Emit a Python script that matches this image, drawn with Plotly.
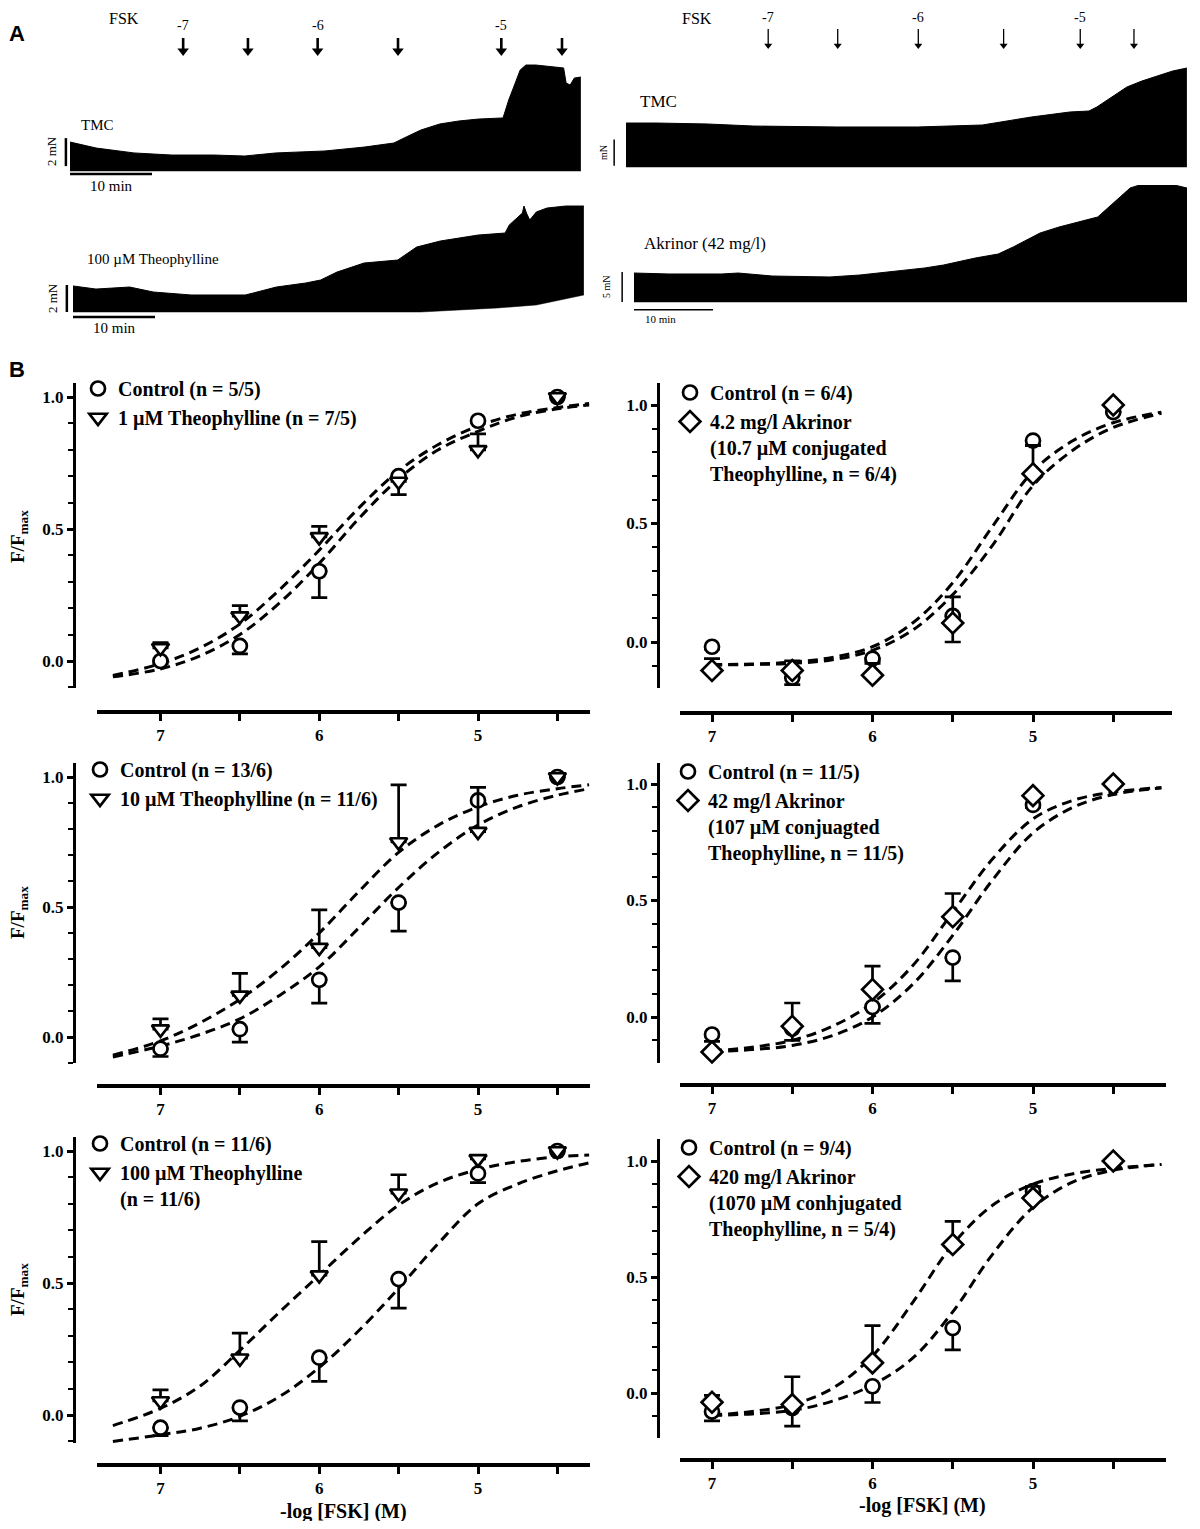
import plotly.graph_objects as go

# page is 1200 x 1529; the html body adds an 8 px margin on each side
PAGE_W, PAGE_H, OFF = 1200, 1529, 8
FW, FH = PAGE_W - 2 * OFF, PAGE_H - 2 * OFF
SERIF = "Liberation Serif, Times New Roman, serif"
SANS = "Liberation Sans, Arial, sans-serif"

# ---------------- panel A: force recordings (time in min, force in mN) ----------------
# TMC, left
tl_time = [0, 3.2, 7.8, 12.4, 17.6, 21.3, 25.1, 31.1, 35.9, 39.5, 41.0, 42.8, 45.1, 47.4,
           49.8, 52.8, 53.0, 53.5, 54.3, 54.9, 55.6, 56.8, 60.2, 60.5, 61.0, 61.5, 62.3]
tl_force = [2.07, 1.64, 1.29, 1.14, 1.14, 1.07, 1.29, 1.43, 1.71, 2.0, 2.43, 2.93, 3.36, 3.57,
            3.71, 3.79, 4.14, 5.07, 6.29, 7.21, 7.57, 7.57, 7.36, 6.29, 6.14, 6.64, 6.71]
tl_base_time = [0, 62.3]
tl_base_force = [0, 0]

# 100 uM theophylline, left
bl_time = [0, 2.8, 6.9, 9.8, 14.4, 21.0, 22.0, 24.8, 28.4, 30.2, 32.2, 35.5, 39.6, 40.1,
           41.9, 44.8, 49.4, 52.7, 53.2, 54.8, 55.0, 55.3, 55.7, 56.0, 56.5, 57.8, 60.1, 62.3]
bl_force = [1.93, 1.70, 1.85, 1.48, 1.26, 1.26, 1.41, 1.85, 2.15, 2.37, 2.96, 3.63, 3.85, 4.07,
            4.81, 5.26, 5.70, 5.85, 6.44, 7.33, 7.85, 7.33, 6.81, 7.04, 7.41, 7.70, 7.85, 7.85]
bl_base_time = [0, 42.4, 51.8, 56.5, 62.3]
bl_base_force = [0, 0, 0.30, 0.52, 1.26]

# TMC, right
tr_time = [0, 3.9, 10.3, 16.1, 26.7, 36.9, 45.1, 47.5, 51.3, 56.2, 58.6, 59.6, 61.5, 63.4,
           65.3, 67.8, 69.2, 71.0]
tr_force = [7.33, 7.33, 7.17, 6.83, 6.67, 6.67, 7.0, 7.5, 8.33, 9.17, 9.33, 10.0, 11.67, 13.33,
            14.33, 15.33, 16.0, 16.5]
tr_base_time = [0, 71.0]
tr_base_force = [0, 0]

# Akrinor (42 mg/l), right
br_time = [0, 4.4, 11.1, 13.2, 17.5, 22.8, 24.8, 28.6, 32.5, 36.8, 39.2, 43.2, 46.1, 48.0,
           51.4, 53.8, 58.7, 60.1, 61.5, 62.8, 64.4, 66.5, 68.4, 70.0]
br_force = [4.83, 4.67, 4.67, 4.83, 4.33, 4.17, 4.17, 4.5, 5.0, 5.67, 6.17, 7.33, 8.0, 9.17,
            11.5, 12.5, 14.17, 15.83, 17.5, 19.0, 19.67, 20.0, 19.5, 19.0]
br_base_time = [0, 70.0]
br_base_force = [0, 0]

# FSK additions (min)
fsk_left_times = [13.8, 21.7, 30.2, 40.0, 52.6, 60.0]
fsk_right_times = [18.0, 26.8, 37.0, 47.8, 57.5, 64.3]
fsk_labels = ['-7', '', '-6', '', '-5', '']

# ---------------- panel B: concentration-response ----------------
log_fsk = [7, 6.5, 6, 5.5, 5, 4.5]
x_ticks = [7, 6.5, 6, 5.5, 5, 4.5]
x_ticktext = ['7', '', '6', '', '5', '']
y_ticks = [0, 0.5, 1.0]
no_err = [0, 0, 0, 0, 0, 0]

fit_x_left = [7.3, 7.0, 6.75, 6.5, 6.25, 6.0, 5.75, 5.5, 5.25, 5.0, 4.75, 4.5, 4.3]
fit_x_right = [7.0, 6.75, 6.5, 6.25, 6.0, 5.75, 5.5, 5.25, 5.0, 4.75, 4.5, 4.2]

# 1 uM theophylline
p1_ctrl = [0.0, 0.057, 0.34, 0.70, 0.91, 1.0]
p1_ctrl_err = [0.01, 0.03, 0.10, 0.07, 0.0, 0.0]
p1_drug = [0.05, 0.17, 0.47, 0.68, 0.80, 1.0]
p1_drug_err = [0.02, 0.04, 0.04, 0.0, 0.06, 0.0]
p1_ctrl_fit = [-0.06, -0.03, 0.02, 0.10, 0.22, 0.37, 0.54, 0.69, 0.80, 0.87, 0.925, 0.955, 0.97]
p1_drug_fit = [-0.055, -0.01, 0.05, 0.14, 0.27, 0.42, 0.58, 0.72, 0.82, 0.89, 0.935, 0.96, 0.975]

# 4.2 mg/l Akrinor
p2_ctrl = [-0.02, -0.15, -0.07, 0.11, 0.85, 0.97]
p2_ctrl_err = [0.01, 0.03, 0.01, 0.11, 0.02, 0.0]
p2_drug = [-0.12, -0.12, -0.14, 0.08, 0.71, 1.0]
p2_drug_err = [0.05, 0.04, 0.05, 0.11, 0.12, 0.0]
p2_ctrl_fit = [-0.097, -0.095, -0.09, -0.075, -0.035, 0.05, 0.20, 0.41, 0.66, 0.81, 0.905, 0.965]
p2_drug_fit = [-0.095, -0.093, -0.085, -0.065, -0.02, 0.08, 0.25, 0.49, 0.72, 0.85, 0.925, 0.97]

# 10 uM theophylline
p3_ctrl = [-0.045, 0.03, 0.22, 0.517, 0.91, 1.0]
p3_ctrl_err = [0.03, 0.05, 0.09, 0.11, 0.0, 0.0]
p3_drug = [0.03, 0.16, 0.344, 0.75, 0.79, 1.0]
p3_drug_err = [0.04, 0.085, 0.145, 0.22, 0.17, 0.0]
p3_ctrl_fit = [-0.077, -0.035, 0.01, 0.07, 0.16, 0.27, 0.42, 0.575, 0.71, 0.815, 0.885, 0.93, 0.955]
p3_drug_fit = [-0.07, -0.015, 0.055, 0.145, 0.26, 0.40, 0.56, 0.71, 0.815, 0.885, 0.93, 0.955, 0.97]

# 42 mg/l Akrinor
p4_ctrl = [-0.075, -0.05, 0.043, 0.255, 0.91, 1.0]
p4_ctrl_err = [0.03, 0.05, 0.07, 0.10, 0.01, 0.0]
p4_drug = [-0.15, -0.04, 0.118, 0.43, 0.95, 1.0]
p4_drug_err = [0.0, 0.10, 0.10, 0.10, 0.0, 0.0]
p4_ctrl_fit = [-0.148, -0.14, -0.122, -0.08, 0.0, 0.14, 0.35, 0.59, 0.79, 0.90, 0.955, 0.983]
p4_drug_fit = [-0.145, -0.13, -0.10, -0.04, 0.06, 0.22, 0.45, 0.68, 0.85, 0.93, 0.965, 0.985]

# 100 uM theophylline
p5_ctrl = [-0.048, 0.028, 0.217, 0.515, 0.915, 1.0]
p5_ctrl_err = [0.03, 0.05, 0.09, 0.11, 0.035, 0.0]
p5_drug = [0.053, 0.215, 0.53, 0.84, 0.97, 1.0]
p5_drug_err = [0.042, 0.095, 0.127, 0.07, 0.0, 0.0]
p5_ctrl_fit = [-0.10, -0.075, -0.05, -0.005, 0.07, 0.18, 0.32, 0.48, 0.65, 0.80, 0.875, 0.925, 0.955]
p5_drug_fit = [-0.04, 0.025, 0.11, 0.245, 0.39, 0.53, 0.67, 0.795, 0.88, 0.93, 0.96, 0.978, 0.985]

# 420 mg/l Akrinor
p6_ctrl = [-0.08, -0.065, 0.029, 0.28, 0.87, 0.995]
p6_ctrl_err = [0.04, 0.078, 0.07, 0.094, 0.0, 0.0]
p6_drug = [-0.04, -0.05, 0.13, 0.64, 0.84, 1.0]
p6_drug_err = [0.03, 0.12, 0.16, 0.10, 0.05, 0.0]
p6_ctrl_fit = [-0.097, -0.09, -0.075, -0.035, 0.035, 0.15, 0.35, 0.60, 0.80, 0.91, 0.96, 0.985]
p6_drug_fit = [-0.095, -0.08, -0.05, 0.02, 0.16, 0.39, 0.64, 0.81, 0.90, 0.945, 0.968, 0.985]

ctrl_names = ['Control (n = 5/5)', 'Control (n = 6/4)', 'Control (n = 13/6)',
              'Control (n = 11/5)', 'Control (n = 11/6)', 'Control (n = 9/4)']
drug_names = ['1 µM Theophylline (n = 7/5)',
              '4.2 mg/l Akrinor<br>(10.7 µM conjugated<br>Theophylline, n = 6/4)',
              '10 µM Theophylline (n = 11/6)',
              '42 mg/l Akrinor<br>(107 µM conjuagted<br>Theophylline, n = 11/5)',
              '100 µM Theophylline<br>(n = 11/6)',
              '420 mg/l Akrinor<br>(1070 µM conhjugated<br>Theophylline, n = 5/4)']


def px_x(p):
    return (p - OFF) / FW


def px_y(p):
    return 1 - (p - OFF) / FH


fig = go.Figure()

# ---------------- panel A ----------------
# axis no, x px window, px at t=0, px per min, y px window, px at F=0, px per mN
A_GEOM = [
    (7, (55, 592), 70, 8.2, (30, 182), 171, 14.0),
    (8, (55, 592), 73, 8.2, (190, 322), 312, 13.5),
    (9, (605, 1190), 626, 7.9, (24, 180), 167, 6.0),
    (10, (605, 1190), 634, 7.9, (185, 316), 302, 6.0),
]
A_DATA = [
    (tl_base_time, tl_base_force, tl_time, tl_force),
    (bl_base_time, bl_base_force, bl_time, bl_force),
    (tr_base_time, tr_base_force, tr_time, tr_force),
    (br_base_time, br_base_force, br_time, br_force),
]
for (n, xw, x0, xs, yw, y0, ys), (bt, bf, t, f) in zip(A_GEOM, A_DATA):
    fig.add_trace(go.Scatter(x=bt, y=bf, mode='lines', line=dict(color='black', width=0.5),
                             xaxis=f'x{n}', yaxis=f'y{n}', showlegend=False, hoverinfo='skip'))
    fig.add_trace(go.Scatter(x=t, y=f, mode='lines', line=dict(color='black', width=1),
                             fill='tonexty', fillcolor='black',
                             xaxis=f'x{n}', yaxis=f'y{n}', showlegend=False, hoverinfo='skip'))
    fig.update_layout(**{
        f'xaxis{n}': dict(domain=[px_x(xw[0]), px_x(xw[1])], anchor=f'y{n}', visible=False,
                          range=[(xw[0] - x0) / xs, (xw[1] - x0) / xs]),
        f'yaxis{n}': dict(domain=[px_y(yw[1]), px_y(yw[0])], anchor=f'x{n}', visible=False,
                          range=[(y0 - yw[1]) / ys, (y0 - yw[0]) / ys]),
    })

# FSK arrows: arrow head marker with the shaft drawn as an upward error bar
# (axis no, geometry index, times, head centre px, shaft top px, head size, shaft width)
ARROWS = [(7, 0, fsk_left_times, 51, 38, 10, 2.6), (9, 2, fsk_right_times, 45.5, 29, 7, 1.3)]
for n, gi, times, head_px, top_px, size, w in ARROWS:
    y0, ys = A_GEOM[gi][5], A_GEOM[gi][6]
    head = (y0 - head_px) / ys
    shaft = (head_px - top_px) / ys
    fig.add_trace(go.Scatter(
        x=times, y=[head] * len(times), mode='markers',
        marker=dict(symbol='triangle-down', size=size, color='black', line=dict(width=0)),
        error_y=dict(type='data', symmetric=False, array=[shaft] * len(times),
                     arrayminus=[0] * len(times), width=0, thickness=w, color='black'),
        xaxis=f'x{n}', yaxis=f'y{n}', showlegend=False, hoverinfo='skip', cliponaxis=False))

shapes = []


def bar(ax, x0, y0, x1, y1, w):
    shapes.append(dict(type='line', xref=f'x{ax}', yref=f'y{ax}', x0=x0, y0=y0, x1=x1, y1=y1,
                       line=dict(color='black', width=w)))


bar(7, -0.5, 0.35, -0.5, 2.35, 2.5)
bar(7, 0, -0.22, 10, -0.22, 2.5)
bar(8, -0.75, 0, -0.75, 2, 2.5)
bar(8, 0, -0.37, 10, -0.37, 2.5)
bar(9, -1.5, 0.2, -1.5, 4.6, 1.5)
bar(10, -1.5, 0, -1.5, 5, 1.5)
bar(10, 0, -1.3, 10, -1.3, 1.5)

annotations = []


def text(s, x, y, size, family=SERIF, angle=0, weight='normal'):
    annotations.append(dict(text=s, x=px_x(x), y=px_y(y), xref='paper', yref='paper',
                            showarrow=False, textangle=angle, xanchor='center', yanchor='middle',
                            font=dict(family=family, size=size, color='black', weight=weight)))


text('A', 17, 33, 22, SANS, weight='bold')
text('B', 17, 370, 22, SANS, weight='bold')
text('FSK', 124, 18, 16)
text('FSK', 697, 18, 16)
text('TMC', 97, 125, 15)
text('2 mN', 51, 151, 13, angle=-90)
text('10 min', 111, 186, 15)
text('100 µM Theophylline', 153, 259, 15)
text('2 mN', 52, 298, 13, angle=-90)
text('10 min', 114, 328, 15)
text('TMC', 659, 101, 17)
text('mN', 603, 153, 10, angle=-90)
text('Akrinor (42 mg/l)', 705, 243, 17)
text('5 mN', 606, 287, 10, angle=-90)
text('10 min', 660, 319, 11)

for t, lab in zip(fsk_left_times, fsk_labels):
    if lab:
        annotations.append(dict(x=t, y=px_y(26), xref='x7', yref='paper', text=lab,
                                xanchor='center', yanchor='middle', showarrow=False,
                                font=dict(family=SERIF, size=14, color='black')))
for t, lab in zip(fsk_right_times, fsk_labels):
    if lab:
        annotations.append(dict(x=t, y=px_y(17), xref='x9', yref='paper', text=lab,
                                xanchor='center', yanchor='middle', showarrow=False,
                                font=dict(family=SERIF, size=14, color='black')))

# ---------------- panel B ----------------
panels = [
    (p1_ctrl, p1_ctrl_err, p1_ctrl_fit, p1_drug, p1_drug_err, p1_drug_fit, fit_x_left, 'triangle-down'),
    (p2_ctrl, p2_ctrl_err, p2_ctrl_fit, p2_drug, p2_drug_err, p2_drug_fit, fit_x_right, 'diamond'),
    (p3_ctrl, p3_ctrl_err, p3_ctrl_fit, p3_drug, p3_drug_err, p3_drug_fit, fit_x_left, 'triangle-down'),
    (p4_ctrl, p4_ctrl_err, p4_ctrl_fit, p4_drug, p4_drug_err, p4_drug_fit, fit_x_right, 'diamond'),
    (p5_ctrl, p5_ctrl_err, p5_ctrl_fit, p5_drug, p5_drug_err, p5_drug_fit, fit_x_left, 'triangle-down'),
    (p6_ctrl, p6_ctrl_err, p6_ctrl_fit, p6_drug, p6_drug_err, p6_drug_fit, fit_x_right, 'diamond'),
]

# x-axis px span, px of x=7 / x=5, y-axis px span, px of y=1 / y=0, y-axis x px, x-axis y px
B_GEOM = [
    ((97, 590), (160.5, 478), (383, 688), (397, 661), 74, 712),
    ((680, 1172), (712, 1033), (383, 688), (405, 642), 658, 713),
    ((97, 590), (160.5, 478), (763, 1063), (777, 1037), 74, 1086),
    ((680, 1166), (712, 1033), (763, 1063), (784, 1017), 658, 1085),
    ((97, 590), (160.5, 478), (1137, 1443), (1151, 1415), 74, 1465),
    ((680, 1166), (712, 1033), (1139, 1438), (1161, 1393), 658, 1460),
]
LEG_POS = [(78, 369), (670, 373), (80, 750), (668, 752), (80, 1124), (669, 1128)]

tickfont = dict(family=SERIF, size=17, color='black', weight='bold')
dash = dict(color='black', width=3, dash='10px,6px', shape='spline', smoothing=1.0)

for i, (pan, geom, lpos) in enumerate(zip(panels, B_GEOM, LEG_POS), start=1):
    ctrl, ctrl_err, ctrl_fit, drug, drug_err, drug_fit, fit_x, sym = pan
    xs, xt, ys, yt, yax_x, xax_y = geom
    sfx = '' if i == 1 else str(i)
    xa, ya, leg = 'x' + sfx, 'y' + sfx, 'legend' + sfx

    for fit in (ctrl_fit, drug_fit):
        fig.add_trace(go.Scatter(x=fit_x, y=fit, mode='lines', line=dash, xaxis=xa, yaxis=ya,
                                 showlegend=False, hoverinfo='skip'))
    fig.add_trace(go.Scatter(
        x=log_fsk, y=ctrl, mode='markers', name=ctrl_names[i - 1], legend=leg,
        marker=dict(symbol='circle', size=14, color='white', line=dict(color='black', width=2.7)),
        error_y=dict(type='data', symmetric=False, array=no_err, arrayminus=ctrl_err,
                     color='black', thickness=2.7, width=8),
        xaxis=xa, yaxis=ya, cliponaxis=False))
    fig.add_trace(go.Scatter(
        x=log_fsk, y=drug, mode='markers', name=drug_names[i - 1], legend=leg,
        marker=dict(symbol=sym, size=16 if sym == 'diamond' else 15, color='white',
                    line=dict(color='black', width=2.7)),
        error_y=dict(type='data', symmetric=False, array=drug_err, arrayminus=no_err,
                     color='black', thickness=2.7, width=8),
        xaxis=xa, yaxis=ya, cliponaxis=False))

    per = (xt[1] - xt[0]) / 2
    xr = [7 - (xs[0] - xt[0]) / per, 7 - (xs[1] - xt[0]) / per]
    pu = yt[1] - yt[0]
    yr = [(yt[1] - ys[1]) / pu, (yt[1] - ys[0]) / pu]

    fig.update_layout(**{
        'xaxis' + sfx: dict(domain=[px_x(xs[0]), px_x(xs[1])], range=xr, anchor='free',
                            position=px_y(xax_y), showline=True, linewidth=3.5, linecolor='black',
                            ticks='outside', ticklen=7, tickwidth=2.5, tickcolor='black',
                            tickvals=x_ticks, ticktext=x_ticktext, tickfont=tickfont,
                            showgrid=False, zeroline=False),
        'yaxis' + sfx: dict(domain=[px_y(ys[1]), px_y(ys[0])], range=yr, anchor='free',
                            position=px_x(yax_x), showline=True, linewidth=3, linecolor='black',
                            ticks='outside', ticklen=6, tickwidth=2.5, tickcolor='black',
                            tickvals=y_ticks, tickformat='.1f', tickfont=tickfont,
                            minor=dict(dtick=0.1, tick0=0, ticks='outside', ticklen=5,
                                       tickwidth=2, tickcolor='black'),
                            showgrid=False, zeroline=False),
        leg: dict(x=px_x(lpos[0]), y=px_y(lpos[1]), xanchor='left', yanchor='top',
                  bgcolor='rgba(0,0,0,0)', valign='top', itemsizing='trace', traceorder='normal',
                  font=dict(family=SERIF, size=20, color='black', weight='bold')),
    })

for yc in (537, 913, 1290):
    text('F/F<sub>max</sub>', 19, yc, 19, weight='bold', angle=-90)
text('-log [FSK] (M)', 343, 1511, 20, weight='bold')
text('-log [FSK] (M)', 922, 1505, 20, weight='bold')

fig.update_layout(width=FW, height=FH, margin=dict(l=0, r=0, t=0, b=0),
                  paper_bgcolor='white', plot_bgcolor='white', hovermode=False,
                  shapes=shapes, annotations=annotations)

fig.write_html("out.html")
